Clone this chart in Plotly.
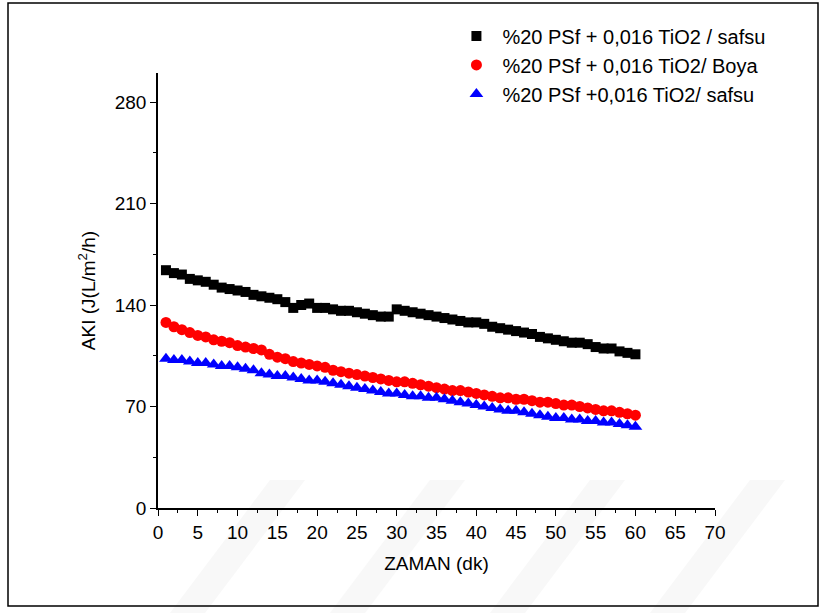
import plotly.graph_objects as go

zaman = list(range(1, 61))

safsu1 = [164, 162, 161, 158, 157, 156, 154, 152, 151, 150,
          149, 147, 146, 145, 144, 142, 138, 140, 141, 138,
          138, 137, 136, 136, 135, 134, 133, 132, 132, 137,
          136, 135, 134, 133, 132, 131, 130, 129, 128, 128,
          127, 125, 124, 123, 122, 121, 120, 118, 117, 116,
          115, 114, 114, 113, 111, 110, 110, 108, 107, 106]

boya = [128, 125, 123, 121, 119, 118, 116, 115, 114, 112,
        111, 110, 109, 106, 104, 103, 101, 100, 99, 98,
        97, 95, 94, 93, 92, 91, 90, 89, 88, 87,
        87, 86, 85, 84, 83, 82, 81, 81, 80, 79,
        78, 77, 76, 76, 75, 75, 74, 73, 73, 72,
        71, 71, 70, 69, 68, 67, 67, 66, 65, 64]

safsu2 = [103, 102, 102, 101, 100, 100, 99, 98, 98, 97,
          96, 95, 93, 92, 91, 91, 90, 89, 88, 88,
          87, 86, 85, 84, 83, 82, 81, 80, 79, 79,
          78, 77, 77, 76, 76, 75, 74, 73, 72, 71,
          70, 69, 68, 67, 67, 66, 65, 64, 63, 62,
          62, 61, 61, 60, 60, 59, 59, 58, 57, 56]

names = ["%20 PSf + 0,016 TiO2 / safsu",
         "%20 PSf + 0,016 TiO2/ Boya",
         "%20 PSf +0,016 TiO2/ safsu"]

x_ticks = list(range(0, 71, 5))
y_ticks = [0, 70, 140, 210, 280]

fig = go.Figure()
fig.add_trace(go.Scatter(x=zaman, y=safsu1, mode="markers", name=names[0], legendgroup="a",
                         marker=dict(symbol="square", size=10, color="black")))
fig.add_trace(go.Scatter(x=zaman, y=boya, mode="markers", name=names[1], legendgroup="b",
                         marker=dict(symbol="circle", size=11, color="#ff0000")))
fig.add_trace(go.Scatter(x=zaman, y=safsu2, mode="markers", name=names[2], legendgroup="c",
                         marker=dict(symbol="triangle-up", size=12, color="#0000ff")))

fam = "Arial, Liberation Sans, sans-serif"
axis_font = dict(family=fam, size=19, color="black")

fig.update_layout(
    width=824, height=613,
    margin=dict(l=158, r=109, t=73, b=105),
    paper_bgcolor="white", plot_bgcolor="white",
    showlegend=True,
    legend=dict(x=0.525, y=1.13, xanchor="left", yanchor="top",
                font=dict(family=fam, size=20, color="black"),
                bgcolor="rgba(0,0,0,0)", tracegroupgap=0, traceorder="grouped",
                itemwidth=42),
    xaxis=dict(range=[0, 70], tickvals=x_ticks, showgrid=False, zeroline=False,
               showline=True, linecolor="black", linewidth=1.5,
               ticks="outside", ticklen=6, tickwidth=1.2, tickcolor="black",
               minor=dict(dtick=2.5, ticks="outside", ticklen=3, tickwidth=1.2, tickcolor="black", showgrid=False),
               tickfont=axis_font, title=dict(text="ZAMAN (dk)", font=axis_font, standoff=15)),
    yaxis=dict(range=[0, 300], tickvals=y_ticks, showgrid=False, zeroline=False,
               showline=True, linecolor="black", linewidth=1.5,
               ticks="outside", ticklen=6, tickwidth=1.2, tickcolor="black",
               minor=dict(dtick=35, ticks="outside", ticklen=3, tickwidth=1.2, tickcolor="black", showgrid=False),
               tickfont=axis_font, title=dict(text="AKI (J(L/m<sup>2</sup>/h)", font=axis_font, standoff=14)),
)

def px2paper(px, py):
    return (px - 158) / 557, (508 - py) / 435

# faint watermark stripes
for x0 in [170, 330, 490, 650]:
    pts = [px2paper(x0, 613), px2paper(x0 + 35, 613), px2paper(x0 + 135, 480), px2paper(x0 + 100, 480)]
    path = "M " + " L ".join(f"{a},{b}" for a, b in pts) + " Z"
    fig.add_shape(type="path", xref="paper", yref="paper", path=path,
                  fillcolor="#f8f8f8", line=dict(width=0), layer="below")

fig.add_shape(type="rect", xref="paper", yref="paper",
              x0=(8 - 158) / 557, x1=(818 - 158) / 557,
              y0=(508 - 606) / 435, y1=(508 - 3) / 435,
              line=dict(color="black", width=1.5), layer="below")

fig.write_html("out.html")
